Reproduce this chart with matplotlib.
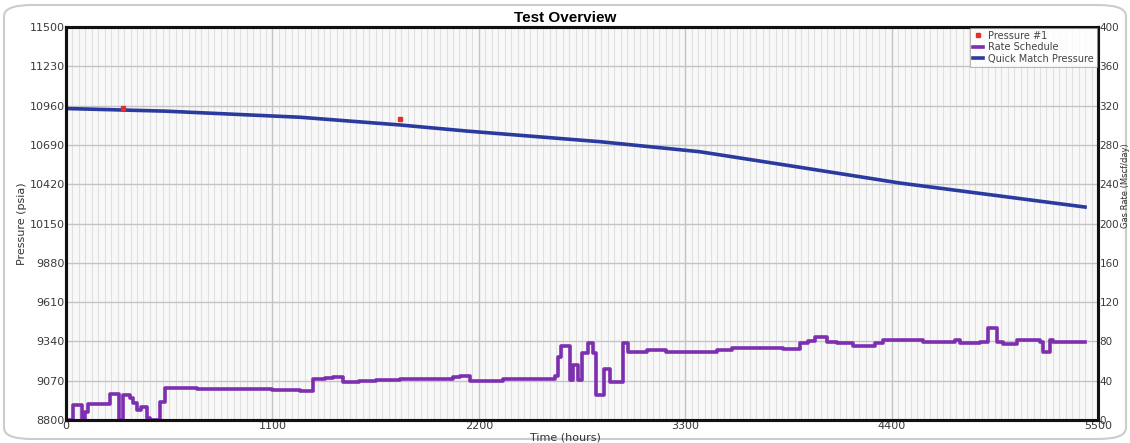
import numpy as np
import matplotlib
matplotlib.use("Agg")
import matplotlib.pyplot as plt
from matplotlib.ticker import MultipleLocator
from matplotlib.patches import FancyBboxPatch

# Quick match pressure (psia) vs time (hours)
qm_hours = [0, 528, 1247, 1780, 2137, 2846, 3378, 3912, 4444, 4977, 5431]
qm_psia = [10940, 10922, 10880, 10827, 10785, 10712, 10643, 10536, 10428, 10339, 10263]

# measured pressure points
p1_hours = [304, 1780]
p1_psia = [10946, 10868]

# rate schedule, step changes (hours, rate)
rate_hours = [0, 37, 85, 100, 118, 234, 280, 305, 341, 357, 378, 400, 432, 450, 501, 528,
              700, 900, 1100, 1247, 1316, 1380, 1423, 1476, 1560, 1650, 1780, 1900,
              2060, 2100, 2153, 2329, 2606, 2622, 2640, 2686, 2702, 2729, 2750, 2782,
              2809, 2826, 2867, 2899, 2967, 2995, 3096, 3200, 3469, 3550, 3821, 3912,
              3954, 3992, 4056, 4109, 4194, 4312, 4354, 4567, 4738, 4764, 4871, 4914,
              4960, 4994, 5068, 5190, 5207, 5244, 5260, 5431]
rate_vals = [0, 15, 1, 8, 16, 26, 0, 25, 22, 17, 10, 13, 2, 0, 18, 32.5,
             32, 31.5, 31, 30, 41.5, 43, 44, 38.5, 39.5, 40.5, 41.5, 42,
             43.5, 45, 40, 42, 45, 64.5, 75, 41, 56, 41, 68, 78,
             68, 25, 52, 39, 78, 69.5, 71, 69.5, 71.5, 73, 72, 78.7,
             80.8, 84.8, 79.7, 78.7, 75.7, 78.7, 81.4, 79.7, 81.4, 78, 79.7, 93.3,
             79.7, 77.4, 81.4, 79, 69, 81.4, 79, 79]

left_ticks = [8800, 9070, 9340, 9610, 9880, 10150, 10420, 10690, 10960, 11230, 11500]

fig = plt.figure(figsize=(11.3, 4.43), dpi=100)
ax = fig.add_axes([66/1130, 1-420/443, (1098-66)/1130, (420-27)/443])
ax2 = ax.twinx()

ax.set_facecolor("#f8f8f8")
ax.set_xlim(0, 5500)
ax.set_ylim(8800, 11500)
ax2.set_ylim(0, 400)
ax.set_yticks(left_ticks)
ax.set_xticks(range(0, 5501, 1100))
ax2.set_yticks(range(0, 401, 40))
ax.xaxis.set_minor_locator(MultipleLocator(1100/32))

ax.grid(True, which="major", color="#c4c4c4", lw=1.0)
ax.grid(True, which="minor", axis="x", color="#e0e0e0", lw=0.8)
ax.set_axisbelow(True)

ax.tick_params(length=0, labelsize=8, labelcolor="#3a3a3a", pad=1)
ax.tick_params(which="minor", length=0)
ax2.tick_params(length=0, labelsize=7.5, labelcolor="#3a3a3a", pad=1)

for a in (ax, ax2):
    for s in a.spines.values():
        s.set_linewidth(2.2)
        s.set_color("#111111")

l2, = ax2.plot(rate_hours, rate_vals, drawstyle="steps-post", color="#7d2fb0", lw=2.6,
               label="Rate Schedule")
l3, = ax.plot(qm_hours, qm_psia, color="#2b3a9e", lw=2.6, label="Quick Match Pressure")
l1, = ax.plot(p1_hours, p1_psia, ls="none", marker="s", ms=2.5, color="#e03030",
              label="Pressure #1")

leg = ax2.legend([l1, l2, l3], ["Pressure #1", "Rate Schedule", "Quick Match Pressure"],
                 loc="upper right", fontsize=7, frameon=True, fancybox=False,
                 borderpad=0.3, labelspacing=0.15, handlelength=1.0, handletextpad=0.6,
                 borderaxespad=0.1)
leg.get_frame().set_edgecolor("#999999")
leg.get_frame().set_linewidth(0.6)
for t in leg.get_texts():
    t.set_color("#444444")

fig.text(565/1130, 1-18/443, "Test Overview", ha="center", va="center",
         fontsize=11, fontweight="bold", family="Liberation Sans")
ax.set_ylabel("Pressure (psia)", fontsize=8, color="#333333", labelpad=2)
fig.text(565/1130, 1-437/443, "Time (hours)", ha="center", va="center",
         fontsize=8, color="#333333")
fig.text(1125/1130, 0.58, "Gas Rate (Mscf/day)", ha="center", va="center",
         rotation=90, fontsize=6, color="#333333")

fig.patches.append(FancyBboxPatch((4/1130, 4/443), 1122/1130, 434/443,
                                  boxstyle="round,pad=0,rounding_size=0.025",
                                  transform=fig.transFigure, fill=False,
                                  edgecolor="#cccccc", lw=1.5))

fig.savefig("out.png", dpi=100)
